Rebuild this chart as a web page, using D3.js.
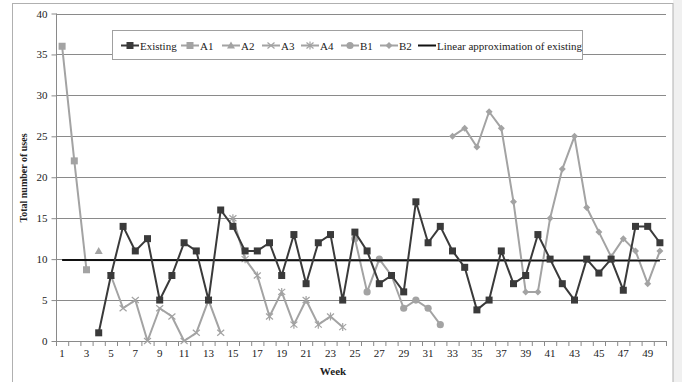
<!DOCTYPE html>
<html><head><meta charset="utf-8">
<script src="https://cdn.jsdelivr.net/npm/d3@7"></script>
<style>body{margin:0;background:#fff}svg{display:block}</style>
</head><body>
<svg id="c" width="682" height="382" font-family="Liberation Serif"></svg>
<script>
const weeks = d3.range(1, 51);
const yTicks = [0, 5, 10, 15, 20, 25, 30, 35, 40];
const existingStart = 4;
const existing = [1, 8, 14, 11, 12.5, 5, 8, 12, 11, 5, 16, 14, 11, 11, 12, 8, 13, 7, 12, 13, 5, 13.3, 11, 7, 8, 6, 17, 12, 14, 11, 9, 3.8, 5, 11, 7, 8, 13, 10, 7, 5, 10, 8.3, 10, 6.2, 14, 14, 12];
const a1Start = 1, a1 = [36, 22, 8.7];
const a2Start = 4, a2 = [11];
const a3Start = 5, a3 = [8, 4, 5, 0, 4, 3, 0, 1, 5, 1];
const a4Start = 15, a4 = [15, 10, 8, 3, 6, 2, 5, 2, 3, 1.7];
const b1Start = 25, b1 = [12.5, 6, 10, 8, 4, 5, 4, 2];
const b2Start = 33, b2 = [25, 26, 23.7, 28, 26, 17, 6, 6, 15, 21, 25, 16.3, 13.3, 10.3, 12.5, 11, 7, 11];
const linearWeeks = [1, 50], linearVals = [9.88, 9.82];
const seriesNames = ["Existing", "A1", "A2", "A3", "A4", "B1", "B2", "Linear approximation of existing"];

const FONT = '"Liberation Serif", "Times New Roman", serif';
const DARK = "#3a3a3a", GRAY = "#a3a3a3";
const svg = d3.select("#c");
// frame
svg.append("rect").attr("x", 673).attr("y", 0).attr("width", 9).attr("height", 382).attr("fill", "#f0f0f0");
svg.append("rect").attr("x", 12.5).attr("y", 3.5).attr("width", 660.5).attr("height", 400).attr("fill", "#fff").attr("stroke", "#b0b0b0");

const x = d3.scaleBand().domain(weeks).range([56, 666]);
const y = d3.scaleLinear().domain([0, 40]).range([341, 13.5]);
const cx = w => x(w) + x.bandwidth() / 2;

// gridlines
svg.append("g").selectAll("line").data(yTicks.filter(t => t > 0)).join("line")
  .attr("x1", 56).attr("x2", 666).attr("y1", d => Math.round(y(d)) + 0.5).attr("y2", d => Math.round(y(d)) + 0.5)
  .attr("stroke", "#8a8a8a").attr("stroke-width", 1);

// y axis
const ya = svg.append("g").attr("transform", "translate(56.5,0)")
  .call(d3.axisLeft(y).tickValues(yTicks).tickSize(5).tickPadding(4));
ya.attr("font-family", FONT);
ya.select(".domain").attr("stroke", "#8a8a8a").attr("d", `M0,${y(40)}V${y(0)}`);
ya.selectAll(".tick line").attr("stroke", "#8a8a8a");
ya.selectAll(".tick text").attr("font-size", 11).attr("fill", "#222").attr("font-family", FONT);

// x axis
const xa = svg.append("g").attr("transform", `translate(0,${Math.round(y(0)) + 0.5})`)
  .call(d3.axisBottom(x).tickValues(weeks.filter(w => w % 2 === 1)).tickSize(0).tickPadding(8));
xa.attr("font-family", FONT);
xa.select(".domain").attr("stroke", "#8a8a8a").attr("d", "M56,0H666");
xa.selectAll(".tick text").attr("font-size", 11).attr("fill", "#222").attr("font-family", FONT);
svg.append("g").selectAll("line").data(weeks.concat([51])).join("line")
  .attr("x1", d => (d <= 50 ? x(d) : x(50) + x.bandwidth()) + 0.5)
  .attr("x2", d => (d <= 50 ? x(d) : x(50) + x.bandwidth()) + 0.5)
  .attr("y1", Math.round(y(0))).attr("y2", Math.round(y(0)) + 5)
  .attr("stroke", "#8a8a8a");

// titles
svg.append("text").attr("x", 333).attr("y", 375).attr("text-anchor", "middle").attr("font-family", FONT)
  .attr("font-size", 11).attr("font-weight", "bold").attr("fill", "#222").text("Week");
svg.append("text").attr("transform", "translate(27,178) rotate(-90)").attr("text-anchor", "middle").attr("font-family", FONT)
  .attr("font-size", 10).attr("font-weight", "bold").attr("fill", "#222").text("Total number of uses");

// markers
function marker(g, type, color, px, py) {
  const s = 3.5;
  if (type === "square") g.append("rect").attr("x", px - s).attr("y", py - s).attr("width", 2 * s).attr("height", 2 * s).attr("fill", color);
  else if (type === "triangle") g.append("path").attr("d", `M${px},${py - 4}L${px + 4},${py + 3}L${px - 4},${py + 3}Z`).attr("fill", color);
  else if (type === "circle") g.append("circle").attr("cx", px).attr("cy", py).attr("r", 3.6).attr("fill", color);
  else if (type === "diamond") g.append("path").attr("d", `M${px},${py - 3.5}L${px + 3.5},${py}L${px},${py + 3.5}L${px - 3.5},${py}Z`).attr("fill", color);
  else if (type === "x") g.append("path").attr("d", `M${px - 3.5},${py - 3}L${px + 3.5},${py + 3}M${px + 3.5},${py - 3}L${px - 3.5},${py + 3}`).attr("stroke", color).attr("stroke-width", 1.2).attr("fill", "none");
  else if (type === "star") g.append("path").attr("d", `M${px - 3.5},${py - 3}L${px + 3.5},${py + 3}M${px + 3.5},${py - 3}L${px - 3.5},${py + 3}M${px},${py - 4}V${py + 4}`).attr("stroke", color).attr("stroke-width", 1.2).attr("fill", "none");
}

const series = [
  {name: seriesNames[1], start: a1Start, vals: a1, color: GRAY, m: "square"},
  {name: seriesNames[2], start: a2Start, vals: a2, color: GRAY, m: "triangle"},
  {name: seriesNames[3], start: a3Start, vals: a3, color: GRAY, m: "x"},
  {name: seriesNames[4], start: a4Start, vals: a4, color: GRAY, m: "star"},
  {name: seriesNames[5], start: b1Start, vals: b1, color: GRAY, m: "circle"},
  {name: seriesNames[6], start: b2Start, vals: b2, color: GRAY, m: "diamond"},
  {name: seriesNames[0], start: existingStart, vals: existing, color: DARK, m: "square"},
];
const line = d3.line().x(d => cx(d[0])).y(d => y(d[1]));

function drawSeries(s) {
  const pts = s.vals.map((v, i) => [s.start + i, v]);
  const g = svg.append("g");
  g.append("path").attr("d", line(pts)).attr("fill", "none").attr("stroke", s.color).attr("stroke-width", 2).attr("stroke-linejoin", "round");
  pts.forEach(p => marker(g, s.m, s.color, cx(p[0]), y(p[1])));
}
series.slice(0, 6).forEach(drawSeries);
svg.append("path").attr("d", line(linearWeeks.map((w, i) => [w, linearVals[i]]))).attr("fill", "none").attr("stroke", "#111").attr("stroke-width", 2);
drawSeries(series[6]);

// legend
const lg = svg.append("g");
lg.append("rect").attr("x", 112.5).attr("y", 30.5).attr("width", 470).attr("height", 29).attr("fill", "#fff").attr("stroke", "#a0a0a0");
const legendItems = [
  {name: seriesNames[0], color: DARK, m: "square", x0: 121},
  {name: seriesNames[1], color: GRAY, m: "square", x0: 181},
  {name: seriesNames[2], color: GRAY, m: "triangle", x0: 222},
  {name: seriesNames[3], color: GRAY, m: "x", x0: 262},
  {name: seriesNames[4], color: GRAY, m: "star", x0: 301},
  {name: seriesNames[5], color: GRAY, m: "circle", x0: 341},
  {name: seriesNames[6], color: GRAY, m: "diamond", x0: 380},
  {name: seriesNames[7], color: "#111", m: null, x0: 418},
];
const ly = 45.5;
legendItems.forEach(it => {
  lg.append("line").attr("x1", it.x0).attr("x2", it.x0 + 18).attr("y1", ly).attr("y2", ly).attr("stroke", it.color).attr("stroke-width", 2);
  if (it.m) marker(lg, it.m, it.color, it.x0 + 9, ly);
  lg.append("text").attr("x", it.x0 + 19).attr("y", ly + 4).attr("font-size", 11).attr("font-family", FONT).attr("fill", "#222").text(it.name);
});
</script>
</body></html>
